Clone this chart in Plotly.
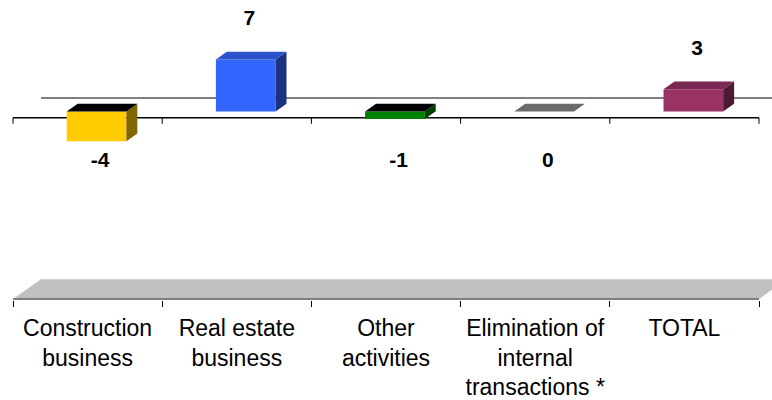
import plotly.graph_objects as go

# ---- data -------------------------------------------------------------
categories = [
    "Construction<br>business",
    "Real estate<br>business",
    "Other<br>activities",
    "Elimination of<br>internal<br>transactions *",
    "TOTAL",
]
values = [-4, 7, -1, 0, 3]

# ---- styles -----------------------------------------------------------
front_colors = ["#FFCC00", "#3366FF", "#008000", "#808080", "#993366"]
top_colors = ["#000000", "#2B52CC", "#000000", "#6B6B6B", "#7A2952"]
side_colors = ["#806600", "#1A3380", "#004000", "#404040", "#4D1A33"]

# ---- geometry (pixels of the 772x400 canvas) ---------------------------
W, H = 772, 400
PLOT_BOTTOM = 303          # bottom edge of the plotting area
LEFT = 13                  # first category boundary on the front plane
SLOT = 149.2               # width of one category slot
PX_PER_UNIT = 7.5          # vertical scale
ZERO_PX = 119              # value 0 on the front plane
FLOOR_PX = 302             # front edge of the floor
DEPTH_DX, DEPTH_DY = 28, 20  # projection of the full depth
BAR_W = 0.4                # bar width in category units
D0, D1 = 0.32, 0.71        # bar depth span (fraction of full depth)

n = len(categories)
dxu = DEPTH_DX / SLOT
dyu = DEPTH_DY / PX_PER_UNIT
floor_v = (ZERO_PX - FLOOR_PX) / PX_PER_UNIT
x_range = [-0.5 - LEFT / SLOT, -0.5 + (W - LEFT) / SLOT]
y_range = [(ZERO_PX - PLOT_BOTTOM) / PX_PER_UNIT, ZERO_PX / PX_PER_UNIT]
bounds = [i - 0.5 for i in range(n + 1)]


def proj(x, v, d):
    """Oblique projection of (category x, value v, depth d)."""
    return x + d * dxu, v + d * dyu


def poly(points):
    xs = [p[0] for p in points] + [points[0][0]]
    ys = [p[1] for p in points] + [points[0][1]]
    return xs, ys


def path(points):
    s = "M {} {}".format(*points[0])
    for p in points[1:]:
        s += " L {} {}".format(*p)
    return s + " Z"


fig = go.Figure()
shapes = []

# floor
floor_pts = [proj(bounds[0], floor_v, 0), proj(bounds[-1], floor_v, 0),
             proj(bounds[-1], floor_v, 1), proj(bounds[0], floor_v, 1)]
shapes.append(dict(type="path", path=path(floor_pts), xref="x", yref="y",
                   fillcolor="#C0C0C0", line=dict(width=0), layer="below"))
shapes.append(dict(type="line", xref="x", yref="y",
                   x0=bounds[0], x1=bounds[-1], y0=floor_v, y1=floor_v,
                   line=dict(color="#808080", width=2), layer="below"))

# zero line on the back wall
bx0, by0 = proj(bounds[0], 0, 1)
bx1, by1 = proj(bounds[-1], 0, 1)
shapes.append(dict(type="line", xref="x", yref="y", x0=bx0, x1=bx1, y0=by0, y1=by1,
                   line=dict(color="#808080", width=2), layer="below"))

# category axis at value 0 on the front plane, with boundary ticks
shapes.append(dict(type="line", xref="x", yref="y", x0=bounds[0], x1=bounds[-1],
                   y0=0, y1=0, line=dict(color="#000000", width=1.5), layer="below"))
for b in bounds:
    shapes.append(dict(type="line", xref="x", yref="y", x0=b, x1=b,
                       y0=0, y1=-6 / PX_PER_UNIT,
                       line=dict(color="#000000", width=1), layer="below"))

# front faces of the bars
fig.add_trace(go.Bar(
    x=[i + D0 * dxu for i in range(n)],
    y=values,
    base=[D0 * dyu] * n,
    width=BAR_W,
    marker=dict(color=front_colors, line=dict(width=0)),
    hoverinfo="skip",
    showlegend=False,
))

# side and top faces
for i, v in enumerate(values):
    xa, xb = i - BAR_W / 2, i + BAR_W / 2
    lo, hi = min(v, 0), max(v, 0)
    if hi > lo:
        sx, sy = poly([proj(xb, lo, D0), proj(xb, hi, D0), proj(xb, hi, D1), proj(xb, lo, D1)])
        fig.add_trace(go.Scatter(x=sx, y=sy, mode="lines", fill="toself",
                                 fillcolor=side_colors[i], line=dict(width=0),
                                 hoverinfo="skip", showlegend=False))
    tx, ty = poly([proj(xa, hi, D0), proj(xb, hi, D0), proj(xb, hi, D1), proj(xa, hi, D1)])
    fig.add_trace(go.Scatter(x=tx, y=ty, mode="lines", fill="toself",
                             fillcolor=top_colors[i], line=dict(width=0),
                             hoverinfo="skip", showlegend=False))

# value labels
label_d = 0.45
label_x = [i + label_d * dxu for i in range(n)]
label_y = [v + 6.2 if v > 0 else -5.9 for v in values]
fig.add_trace(go.Scatter(
    x=label_x, y=label_y, mode="text",
    text=["<b>{}</b>".format(v) for v in values],
    textposition="middle center",
    textfont=dict(family="Liberation Sans, Arial, sans-serif", size=21, color="#000000"),
    hoverinfo="skip", showlegend=False,
))

fig.update_layout(
    width=W, height=H,
    margin=dict(l=0, r=0, t=0, b=H - PLOT_BOTTOM),
    paper_bgcolor="#FFFFFF", plot_bgcolor="#FFFFFF",
    shapes=shapes,
    xaxis=dict(
        range=x_range, showgrid=False, zeroline=False, showline=False,
        tickmode="array", tickvals=list(range(n)), ticktext=categories,
        ticks="outside", ticklen=7, tickcolor="rgba(0,0,0,0)",
        tickfont=dict(family="Liberation Sans, Arial, sans-serif", size=23, color="#000000"),
        minor=dict(tickmode="array", tickvals=bounds, ticks="outside", ticklen=6,
                   tickwidth=1, tickcolor="#000000", showgrid=False),
        fixedrange=True,
    ),
    yaxis=dict(range=y_range, visible=False, showgrid=False, zeroline=False, fixedrange=True),
    showlegend=False,
)

fig.write_html("out.html")
